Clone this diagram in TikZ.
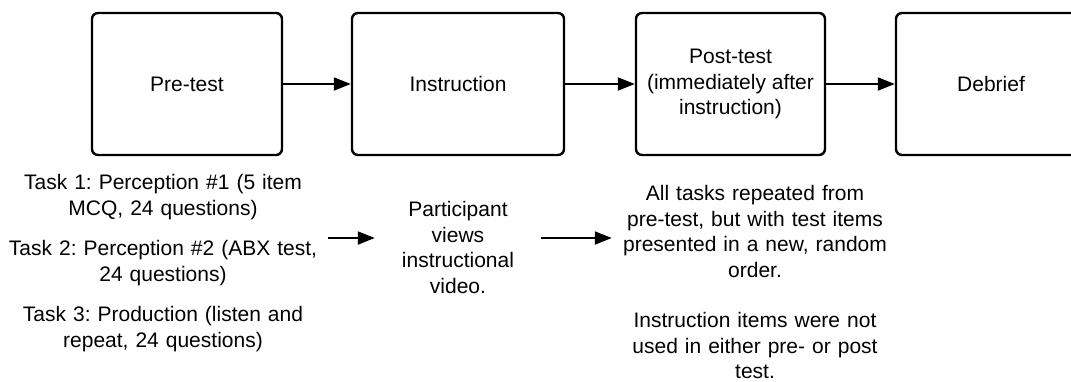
\documentclass[tikz,border=0pt]{standalone}
\usepackage{fontspec}
\setmainfont{Liberation Sans}
\frenchspacing
\usetikzlibrary{positioning,arrows.meta}

\tikzset{
  stage/.style={draw, line width=2.4pt, rounded corners=6pt, minimum height=142pt, align=center, inner sep=0pt},
  note/.style={align=center, inner sep=0pt},
  flow/.style={-{Triangle[length=17pt,width=13pt]}, line width=2pt},
}

\begin{document}
\begin{tikzpicture}[x=1pt, y=-1pt, font=\fontsize{21}{25.5}\selectfont]
    \useasboundingbox (0,0) rectangle (1071,381);

    % Stages
    \node[stage, minimum width=190pt] (pre) at (187,84) {Pre-test};
    \node[stage, minimum width=212pt] (instr) at (458,84) {Instruction};
    \node[stage, minimum width=189pt] (post) at (730.5,84) {Post-test\\(immediately after\\instruction)};
    \node[stage, minimum width=190pt] (debrief) at (991,84) {Debrief};

    % Stage arrows
    \draw[flow] (pre) -- (instr);
    \draw[flow] (instr) -- (post);
    \draw[flow] (post) -- (debrief);

    % Details under the stages
    \coordinate (row) at (0,238);
    \node[note, text width=330pt, font=\fontsize{21}{26.5}\selectfont] (tasks) at (163,263)
        {Task 1: Perception \#1 (5 item\\MCQ, 24 questions)\\[13pt]
         Task 2: Perception \#2 (ABX test,\\24 questions)\\[13pt]
         Task 3: Production (listen and\\repeat, 24 questions)};
    \node[note, text width=166pt] (views) at (458,247.5)
        {Participant\\views\\instructional\\video.};
    \node[note, text width=286pt] (repeat) at (755,282)
        {All tasks repeated from\\pre-test, but with test items\\presented in a new, random\\order.\\[25pt]
         Instruction items were not\\used in either pre- or post\\test.};

    % Detail arrows
    \draw[flow] (tasks.east |- row) -- (views.west |- row);
    \draw[flow] (views.east |- row) -- (repeat.west |- row);
\end{tikzpicture}
\end{document}
